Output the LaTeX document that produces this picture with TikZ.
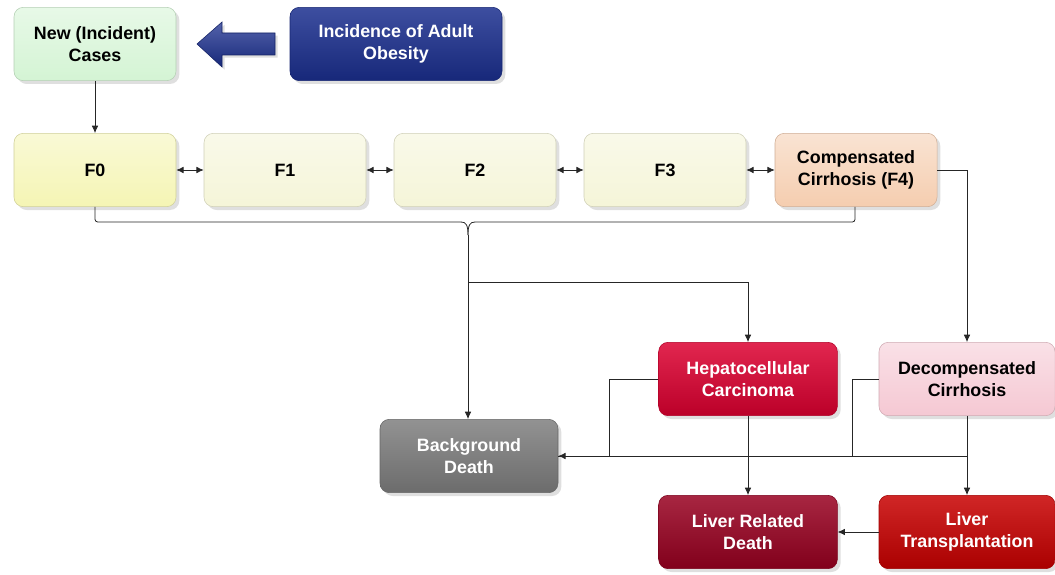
\documentclass[tikz,border=0pt]{standalone}
\usepackage{fontspec}
\setmainfont{Liberation Sans}
\usetikzlibrary{shadows,arrows.meta,calc}

\definecolor{newgreen}{HTML}{D4F4D4}
\definecolor{obeseblue}{HTML}{1B2F8F}
\definecolor{fzero}{HTML}{F5F5B4}
\definecolor{fstage}{HTML}{F5F5D8}
\definecolor{cirrpeach}{HTML}{F5CDAF}
\definecolor{hccred}{HTML}{DC0030}
\definecolor{decpink}{HTML}{F5C8D3}
\definecolor{bgdgrey}{HTML}{7F7F7F}
\definecolor{lrdred}{HTML}{980020}
\definecolor{ltred}{HTML}{C80000}

\begin{document}
\begin{tikzpicture}[x=0.75pt, y=-0.75pt, >={Latex[length=5.5pt,width=5pt]}]
      \tikzset{
	  box/.style={rectangle, rounded corners=7pt, minimum width=121.5pt, minimum height=55pt, inner sep=2pt,
	    align=center, font=\fontsize{13.4}{16.3}\selectfont\bfseries,
	    drop shadow={shadow xshift=2.5pt, shadow yshift=-2.5pt, opacity=0.25}},
	  lightbox/.style={box, draw=#1!85!black, top color=#1!55!white, bottom color=#1, text=black},
	  darkbox/.style={box, draw=#1!80!black, top color=#1!85!white, bottom color=#1!85!black, text=white},
	  link/.style={draw=black!85, line width=0.6pt}
      }
      \useasboundingbox (0,0) rectangle (1055,574);

      % top row
      \node[lightbox=newgreen] (new) at (95,44) {New (Incident)\\Cases};
      \node[darkbox=obeseblue, minimum width=159pt] (obese) at (396,44) {Incidence of Adult\\Obesity};
      \shade[top color=obeseblue!75!white, bottom color=obeseblue!85!black, draw=obeseblue!70!black,
	    drop shadow={shadow xshift=2pt, shadow yshift=-2pt, opacity=0.25}]
	    (275,33) -- (222,33) -- (222,22) -- (197,44) -- (222,67) -- (222,55) -- (275,55) -- cycle;

      % fibrosis stages
      \node[lightbox=fzero] (F0) at (95,170) {F0};
      \node[lightbox=fstage] (F1) at (285,170) {F1};
      \node[lightbox=fstage] (F2) at (475,170) {F2};
      \node[lightbox=fstage] (F3) at (665,170) {F3};
      \node[lightbox=cirrpeach] (F4) at (856,170) {Compensated\\Cirrhosis (F4)};

      % outcomes
      \node[darkbox=hccred, minimum width=134pt] (hcc) at (748,379) {Hepatocellular\\Carcinoma};
      \node[lightbox=decpink, minimum width=132pt] (dec) at (967,379) {Decompensated\\Cirrhosis};
      \node[darkbox=bgdgrey, minimum width=133.5pt] (bgd) at (469,456) {Background\\Death};
      \node[darkbox=lrdred, minimum width=134pt] (lrd) at (748,532) {Liver Related\\Death};
      \node[darkbox=ltred, minimum width=132pt] (lt) at (967,532) {Liver\\Transplantation};

      \draw[link,->] (new) -- (F0);
      \foreach \a/\b in {F0/F1, F1/F2, F2/F3, F3/F4}
	  \draw[link,<->] (\a) -- (\b);

      % brace under the stages
      \coordinate (tip) at (468,235);
      \draw[link, rounded corners=2pt] (F0.south) -- (95,222) -- (461,222);
      \draw[link] (461,222) .. controls (466,222) and (468,225) .. (tip);
      \draw[link] (tip) .. controls (468,225) and (470,222) .. (475,222);
      \draw[link, rounded corners=2pt] (475,222) -- (855,222) -- (F4.south -| 855,0);
      \draw[link,->] (tip) -- (tip |- bgd.north);
      \coordinate (split) at (468,282);
      \draw[link,->] (split) -| (hcc.north);
      \draw[link,->] (F4.east) -| (dec.north);

      \draw[link,->] (hcc.west) -- ++(-49,0) |- (bgd.east);
      \draw[link] (dec.west) -- ++(-26,0) coordinate (dw) -- (dw |- bgd.east);
      \draw[link] (dec.south |- bgd.east) -- (bgd.east);
      \draw[link,->] (dec) -- (lt);
      \draw[link,->] (hcc) -- (lrd);
      \draw[link,->] (lt) -- (lrd);
\end{tikzpicture}
\end{document}
